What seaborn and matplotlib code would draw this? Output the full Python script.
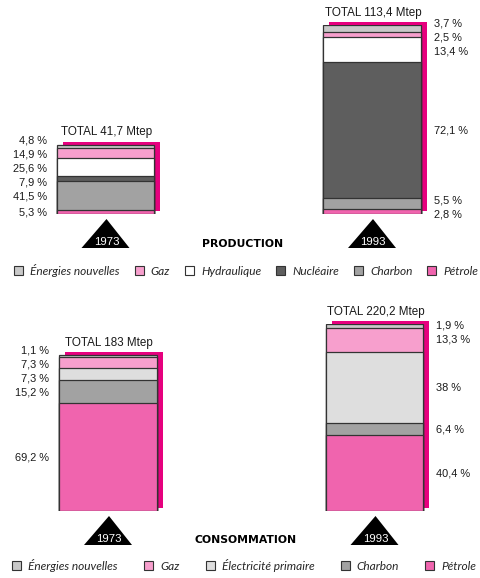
import matplotlib
matplotlib.use("Agg")
import matplotlib.pyplot as plt
import matplotlib.transforms as mtransforms
from matplotlib.patches import Polygon, Patch
import seaborn as sns

# ---------------- data ----------------
years = ["1973", "1993"]

# Production (bottom to top of each stack)
prod_sources = ["Pétrole", "Charbon", "Nucléaire", "Hydraulique", "Gaz", "Énergies nouvelles"]
prod_pct_1973 = [5.3, 41.5, 7.9, 25.6, 14.9, 4.8]
prod_pct_1993 = [2.8, 5.5, 72.1, 13.4, 2.5, 3.7]
prod_totals = [41.7, 113.4]

# Consommation (bottom to top of each stack)
cons_sources = ["Pétrole", "Charbon", "Électricité primaire", "Gaz", "Énergies nouvelles"]
cons_pct_1973 = [69.2, 15.2, 7.3, 7.3, 1.1]
cons_pct_1993 = [40.4, 6.4, 38, 13.3, 1.9]
cons_totals = [183, 220.2]

prod_legend = ["Énergies nouvelles", "Gaz", "Hydraulique", "Nucléaire", "Charbon", "Pétrole"]
cons_legend = ["Énergies nouvelles", "Gaz", "Électricité primaire", "Charbon", "Pétrole"]

# ---------------- style ----------------
sns.set_style("white")
SANS = ["Liberation Sans", "DejaVu Sans"]
plt.rcParams["font.family"] = SANS

COLORS = {
    "Pétrole": "#f064ae",
    "Charbon": "#a2a2a2",
    "Nucléaire": "#5e5e5e",
    "Hydraulique": "#ffffff",
    "Gaz": "#f79fcd",
    "Énergies nouvelles": "#c9c9c9",
    "Électricité primaire": "#dedede",
}
SHADOW = "#e6007e"
EDGE = "#333333"
TEXT = "#1a1a1a"

W, H = 480, 578
fig = plt.figure(figsize=(W / 100, H / 100), dpi=100)
fig.patch.set_facecolor("white")

BAR_W = 0.364


def fr(v):
    return f"{v:g}".replace(".", ",")


def spread(ys, gap):
    ys = list(ys)
    for _ in range(300):
        moved = False
        for k in range(len(ys) - 1):
            d = ys[k + 1] - ys[k]
            if d < gap - 1e-6:
                s = (gap - d) / 2
                ys[k] -= s
                ys[k + 1] += s
                moved = True
        if not moved:
            break
    return ys


def stacked_panel(ax, sources, pct_by_year, totals, top_px, bottom_px, centre_px):
    height_px = bottom_px - top_px
    ymax = max(totals)
    px_per_unit = height_px / ymax

    # segment values in Mtep
    seg = [[p / 100 * t for p in pcts] for pcts, t in zip(pct_by_year, totals)]
    n = len(sources)

    # drop shadow behind each bar
    shadow_tr = mtransforms.offset_copy(ax.transData, fig=fig, x=6, y=3, units="dots")
    ax.bar([0, 1], [sum(s) for s in seg], width=BAR_W, color=SHADOW,
           linewidth=0, transform=shadow_tr, zorder=0.5, clip_on=False)

    # stacked bars: draw cumulative heights from the top layer down
    for k in reversed(range(n)):
        cum = [sum(s[: k + 1]) for s in seg]
        sns.barplot(x=years, y=cum, color=COLORS[sources[k]], width=BAR_W,
                    saturation=1, edgecolor=EDGE, linewidth=0.9,
                    errorbar=None, ax=ax, zorder=2)

    for i, (s, pcts, t) in enumerate(zip(seg, pct_by_year, totals)):
        centres = []
        base = 0
        for v in s:
            centres.append((base + v / 2) * px_per_unit)
            base += v
        ys = spread(centres, 14)
        for y_px, p in zip(ys, pcts):
            if i == 0:
                ax.annotate(f"{fr(p)} %", xy=(i - BAR_W / 2, y_px / px_per_unit),
                            xytext=(-10, 0), textcoords="offset pixels",
                            ha="right", va="center", fontsize=7.9, color=TEXT,
                            annotation_clip=False)
            else:
                ax.annotate(f"{fr(p)} %", xy=(i + BAR_W / 2, y_px / px_per_unit),
                            xytext=(13, 0), textcoords="offset pixels",
                            ha="left", va="center", fontsize=7.9, color=TEXT,
                            annotation_clip=False)
        ax.annotate(f"TOTAL {fr(t)} Mtep", xy=(i, sum(s)), xytext=(1, 12),
                    textcoords="offset pixels", ha="center", va="center",
                    fontsize=8.4, color=TEXT, annotation_clip=False)

        # year marker: black triangle under the bar
        tri = Polygon([(-24, -34), (24, -34), (1, -5)], closed=True,
                      facecolor="black", edgecolor="none", clip_on=False,
                      transform=mtransforms.ScaledTranslation(i, 0, ax.transData))
        ax.add_patch(tri)
        ax.annotate(years[i], xy=(i, 0), xytext=(1, -28), textcoords="offset pixels",
                    ha="center", va="center", color="white", fontsize=8.2,
                    annotation_clip=False)

    ax.set_ylim(0, ymax)
    scale = 266.5
    ax.set_xlim(-centre_px / scale, (W - centre_px) / scale)
    ax.set_axis_off()


ax_p = fig.add_axes([0, (H - 214) / H, 1, (214 - 25) / H])
stacked_panel(ax_p, prod_sources, [prod_pct_1973, prod_pct_1993], prod_totals, 25, 214, 105.5)

ax_c = fig.add_axes([0, (H - 511) / H, 1, (511 - 324) / H])
stacked_panel(ax_c, cons_sources, [cons_pct_1973, cons_pct_1993], cons_totals, 324, 511, 108)

fig.text(243 / W, 1 - 244 / H, "PRODUCTION", ha="center", va="center",
         fontsize=7.8, fontweight="bold", family="DejaVu Sans", color="black")
fig.text(246 / W, 1 - 540 / H, "CONSOMMATION", ha="center", va="center",
         fontsize=7.8, fontweight="bold", family="DejaVu Sans", color="black")


def legend(names, y_px, x0, colspace):
    handles = [Patch(facecolor=COLORS[nm], edgecolor=EDGE, linewidth=0.8, label=nm)
               for nm in names]
    fig.legend(handles=handles, loc="center left", ncol=len(names),
               bbox_to_anchor=(x0 / W, 1 - y_px / H),
               frameon=False, handlelength=0.75, handleheight=0.75,
               handletextpad=0.6, columnspacing=colspace, borderpad=0, borderaxespad=0,
               prop=dict(family=["Lato", "DejaVu Sans"], style="italic", size=8.6))


legend(prod_legend, 270, 14, 1.25)
legend(cons_legend, 565, 12, 2.2)

fig.savefig("out.png", dpi=100, facecolor="white")
